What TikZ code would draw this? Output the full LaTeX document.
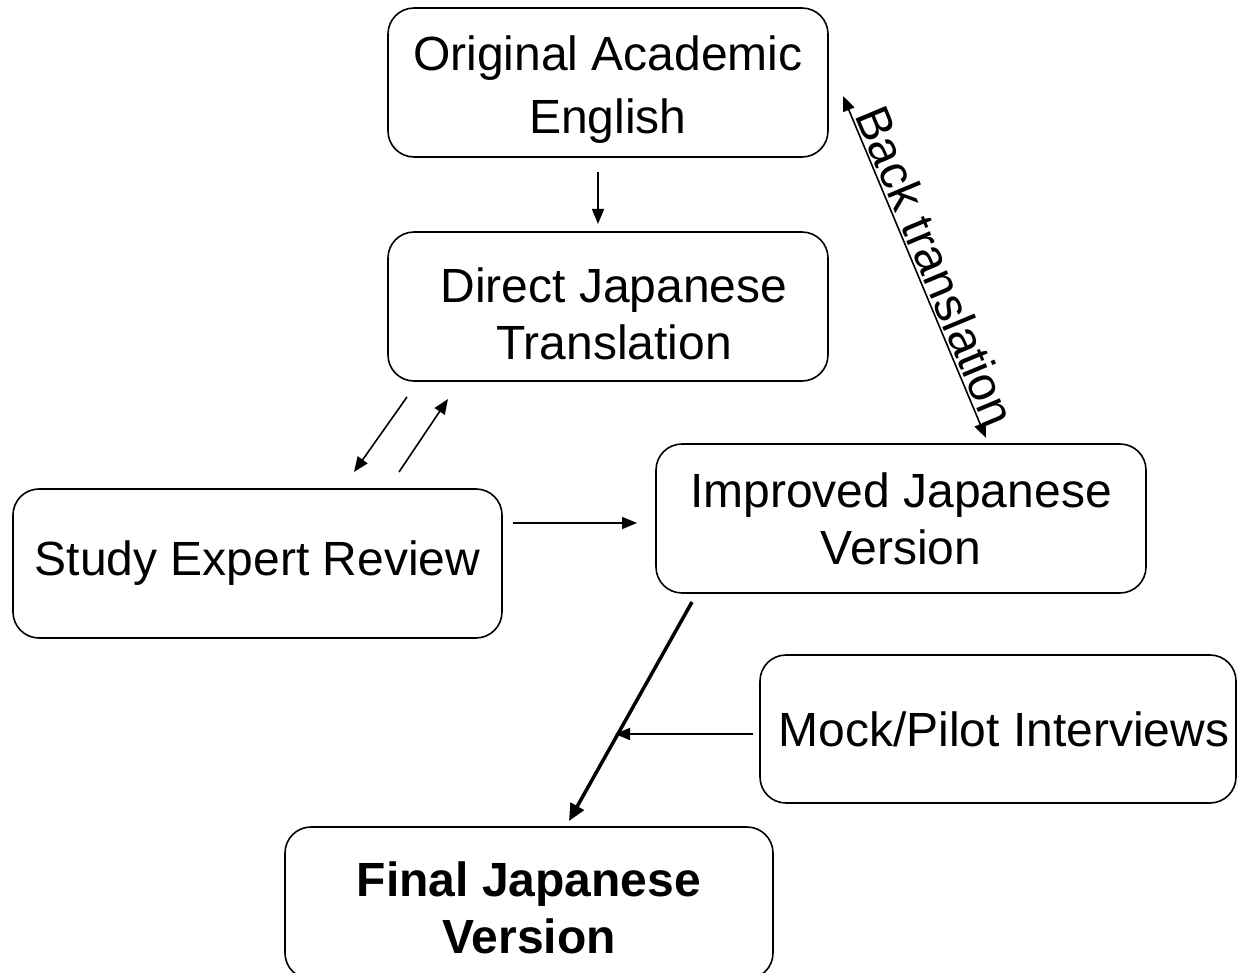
\documentclass[tikz,border=0pt]{standalone}
\usepackage{fontspec}
\setmainfont{Liberation Sans}
\usetikzlibrary{arrows.meta}
\begin{document}
\begin{tikzpicture}[x=1pt,y=-1pt,
  box/.style={draw, line width=1.6pt, rounded corners=26pt, align=center,
    inner sep=0pt, font=\fontsize{48}{57}\selectfont},
  twoline/.style={text height=91pt, text depth=0pt},
  arr/.style={line width=1.6pt, -{Triangle[length=15pt,width=12pt]}},
  darr/.style={line width=1.6pt, {Triangle[length=15pt,width=12pt]}-{Triangle[length=15pt,width=12pt]}},
  thick arr/.style={line width=3.5pt, -{Triangle[length=17pt,width=15pt]}}]
\clip (0,0) rectangle (1237,973);
\fill[white] (0,0) rectangle (1237,973);
\node[box, twoline, text height=103pt, font=\fontsize{48}{63}\selectfont, minimum width=440pt, minimum height=149pt] (orig) at (608,82.5) {Original Academic\\English};
\node[box, twoline, text height=107pt, minimum width=440pt, minimum height=149pt] (direct) at (608,306.5) {\hspace*{12pt}Direct Japanese\\\hspace*{12pt}Translation};
\node[box, minimum width=489pt, minimum height=149pt] (study) at (257.5,563.5) {Study Expert Review};
\node[box, twoline, minimum width=490pt, minimum height=149pt] (improved) at (901,518.5) {Improved Japanese\\Version};
\node[box, minimum width=476pt, minimum height=148pt] (mock) at (998,729) {\hspace*{12pt}Mock/Pilot Interviews};
\node[box, twoline, text height=100pt, minimum width=488pt, minimum height=152pt, font=\fontsize{48}{57}\selectfont\bfseries] (final) at (529,903) {Final Japanese\\Version};

\coordinate (a1) at (598,172);
\coordinate (a2) at (598,224);
\draw[arr] (a1) -- (a2);

\coordinate (b1) at (843,96);
\coordinate (b2) at (986,438);
\draw[darr] (b1) -- node[sloped, above, inner sep=2pt, pos=0.52, font=\fontsize{48}{58}\selectfont] {Back translation} (b2);

\coordinate (c1) at (407,397);
\coordinate (c2) at (354,472);
\draw[arr] (c1) -- (c2);
\coordinate (d1) at (399,472);
\coordinate (d2) at (448,399);
\draw[arr] (d1) -- (d2);

\coordinate (e1) at (513,523);
\coordinate (e2) at (637,523);
\draw[arr] (e1) -- (e2);

\coordinate (f1) at (692,602);
\coordinate (f2) at (569,821);
\draw[thick arr] (f1) -- (f2);

\coordinate (g1) at (753,734);
\coordinate (g2) at (615,734);
\draw[arr] (g1) -- (g2);
\end{tikzpicture}
\end{document}
